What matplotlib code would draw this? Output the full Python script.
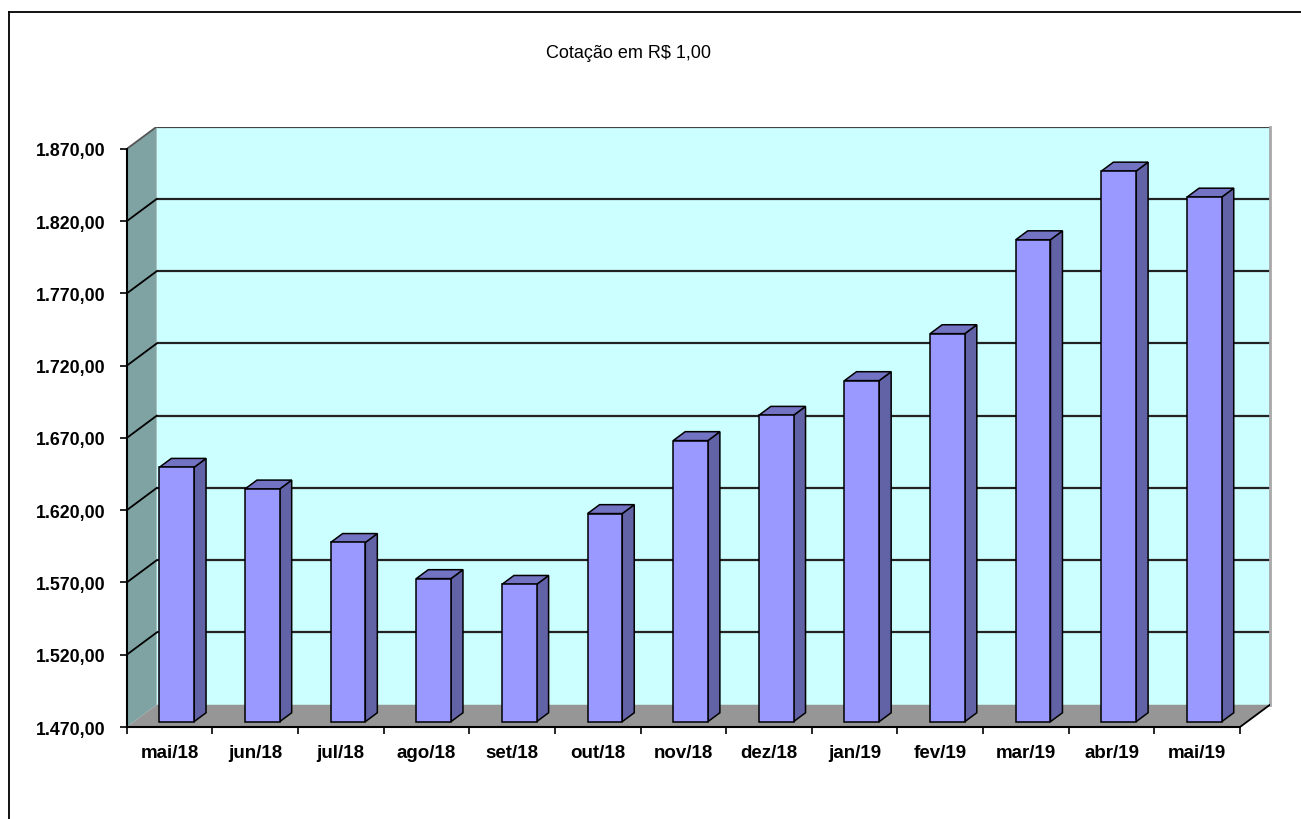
import matplotlib
matplotlib.use("Agg")
import matplotlib.pyplot as plt
from matplotlib.patches import Polygon
from matplotlib.lines import Line2D

plt.rcParams['font.family'] = ['Liberation Sans', 'DejaVu Sans']

# ---- data ----
categories = ["mai/18", "jun/18", "jul/18", "ago/18", "set/18", "out/18", "nov/18",
              "dez/18", "jan/19", "fev/19", "mar/19", "abr/19", "mai/19"]
values = [1646.0, 1631.0, 1594.0, 1569.0, 1565.0, 1614.0, 1664.5,
          1682.0, 1706.0, 1738.5, 1803.5, 1851.0, 1833.0]
y_ticks = [1470, 1520, 1570, 1620, 1670, 1720, 1770, 1820, 1870]
y_tick_labels = ["1.470,00", "1.520,00", "1.570,00", "1.620,00", "1.670,00",
                 "1.720,00", "1.770,00", "1.820,00", "1.870,00"]
title = "Cotação em R$ 1,00"

# ---- style / geometry ----
YMIN, YMAX = 1470, 1870
DX, DY = 0.35, 15.4          # oblique depth offset (data units)
F0 = 0.24                    # depth position of bar front face
BD = 0.40                    # bar depth fraction
BW = 0.405                   # bar width (category units)
WALL = "#CCFFFF"
LWALL = "#7FA3A3"
FLOOR = "#969696"
FRONT = "#9999FF"
SIDE = "#6262A6"
TOP = "#7373C4"

W, H = 1301, 820
fig = plt.figure(figsize=(W / 100, H / 100), dpi=100)
fig.patch.set_facecolor("white")

left, right, top, bottom = 126.7, 1270.0, 127.7, 728.0
ax = fig.add_axes([left / W, 1 - bottom / H, (right - left) / W, (bottom - top) / H])
n = len(categories)
ax.set_xlim(0, n + DX)
ax.set_ylim(YMIN, YMAX + DY)
ax.patch.set_alpha(0)
for s in ax.spines.values():
    s.set_visible(False)

# back wall
ax.add_patch(Polygon([(DX, YMIN + DY), (n + DX, YMIN + DY), (n + DX, YMAX + DY), (DX, YMAX + DY)],
                     closed=True, facecolor=WALL, edgecolor="none", zorder=0))
# left wall
ax.add_patch(Polygon([(0, YMIN), (DX, YMIN + DY), (DX, YMAX + DY), (0, YMAX)],
                     closed=True, facecolor=LWALL, edgecolor="none", zorder=0))
# gridlines on walls
for v in y_ticks[1:]:
    c = "#555555" if v == YMAX else "black"
    ax.plot([DX, n + DX], [v + DY, v + DY], color="#222222" if v != YMAX else "#444444",
            lw=1.6, zorder=1, solid_capstyle="butt")
    ax.plot([0, DX], [v, v + DY], color=c, lw=1.3, zorder=1)
# right edge of back wall
ax.plot([n + DX, n + DX], [YMIN + DY, YMAX + DY], color="#A8A8A8", lw=2, zorder=1, clip_on=False)
# floor
ax.add_patch(Polygon([(0, YMIN), (n, YMIN), (n + DX, YMIN + DY), (DX, YMIN + DY)],
                     closed=True, facecolor=FLOOR, edgecolor="none", zorder=1.5))
ax.plot([n, n + DX], [YMIN, YMIN + DY], color="black", lw=1.3, zorder=2)

# bars
for i, v in enumerate(values):
    x0 = i + 0.5 - BW / 2 + F0 * DX
    x1 = x0 + BW
    y0 = YMIN + F0 * DY
    y1 = v + F0 * DY
    ddx, ddy = BD * DX, BD * DY
    ax.add_patch(Polygon([(x1, y0), (x1 + ddx, y0 + ddy), (x1 + ddx, y1 + ddy), (x1, y1)],
                         closed=True, facecolor=SIDE, edgecolor="black", lw=1.1, zorder=3))
    ax.add_patch(Polygon([(x0, y1), (x1, y1), (x1 + ddx, y1 + ddy), (x0 + ddx, y1 + ddy)],
                         closed=True, facecolor=TOP, edgecolor="black", lw=1.1, zorder=3))
    ax.add_patch(Polygon([(x0, y0), (x1, y0), (x1, y1), (x0, y1)],
                         closed=True, facecolor=FRONT, edgecolor="black", lw=1.1, zorder=3.1))

# axis lines
ax.plot([0, 0], [YMIN, YMAX], color="black", lw=1.5, zorder=4, clip_on=False)
ax.plot([0, n], [YMIN, YMIN], color="black", lw=1.5, zorder=4, clip_on=False)

# y ticks
ax.set_yticks(y_ticks)
ax.set_yticklabels(y_tick_labels, fontsize=12.8, fontweight="bold")
ax.tick_params(axis="y", direction="out", length=5, width=1.2, pad=10)

# x ticks: boundaries (marks) and centres (labels)
ax.set_xticks(range(n + 1))
ax.set_xticklabels([""] * (n + 1))
ax.set_xticks([i + 0.5 for i in range(n)], minor=True)
ax.set_xticklabels(categories, minor=True, fontsize=13.5, fontweight="bold")
ax.tick_params(axis="x", which="major", direction="out", length=5, width=1.2)
ax.tick_params(axis="x", which="minor", length=0, pad=12)

# title
fig.text(628 / W, 1 - 53 / H, title, ha="center", va="center", fontsize=13)

# chart border (open at right/bottom edges of image)
fig.add_artist(Line2D([8.5 / W, 8.5 / W], [-0.1, 1 - 13 / H], transform=fig.transFigure,
                      color="black", lw=1.3))
fig.add_artist(Line2D([8.5 / W, 1.1], [1 - 13 / H, 1 - 13 / H], transform=fig.transFigure,
                      color="black", lw=1.3))

fig.savefig("out.png", dpi=100)
